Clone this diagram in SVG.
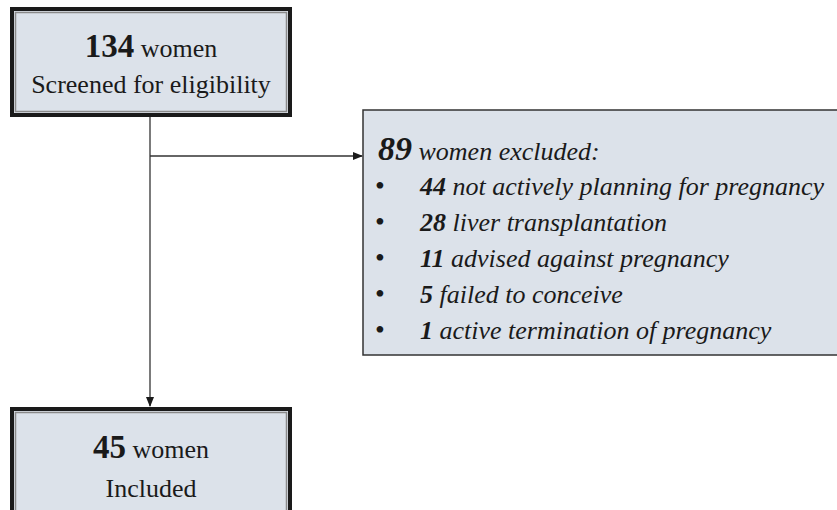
<svg xmlns="http://www.w3.org/2000/svg" width="837" height="510" viewBox="0 0 837 510">
<style>
.box{fill:#dce2ea;stroke:#1a1a1a;stroke-width:4}
.inner{fill:none;stroke:#8a8a8a;stroke-width:1.5}
.ex{fill:#dce2ea;stroke:#333;stroke-width:1.5}
text{font-family:'Liberation Serif','Times New Roman',Times,serif;fill:#1a1a1a}
.c{text-anchor:middle;font-size:26px}
.big{font-weight:bold;font-size:33px}
.it{font-style:italic;font-size:26px}
.num{font-weight:bold}
.bul{font-size:28px}
.line{stroke:#333;stroke-width:1.3;fill:none}
</style>
<defs>
<marker id="ah" markerWidth="10" markerHeight="8" refX="9" refY="4" orient="auto" markerUnits="userSpaceOnUse">
<path d="M0,0 L10,4 L0,8 Z" fill="#1a1a1a"/>
</marker>
</defs>
<g id="connectors">
<path class="line" d="M150,116 V406" marker-end="url(#ah)"/>
<path class="line" d="M150,156 H362" marker-end="url(#ah)"/>
</g>
<g id="screened">
<rect class="box" x="12" y="9" width="278" height="106"/>
<rect class="inner" x="15.5" y="12.5" width="271" height="99"/>
<text class="c" x="151" y="57"><tspan class="big">134</tspan> women</text>
<text class="c" x="151" y="93">Screened for eligibility</text>
</g>
<g id="excluded">
<rect class="ex" x="363" y="110" width="480" height="245"/>
<text class="it" x="378" y="160"><tspan class="num" style="font-size:34px">89</tspan> women excluded:</text>
<text class="bul" x="375" y="195">•</text>
<text class="bul" x="375" y="231">•</text>
<text class="bul" x="375" y="267">•</text>
<text class="bul" x="375" y="303">•</text>
<text class="bul" x="375" y="339">•</text>
<text class="it" x="420" y="195"><tspan class="num">44</tspan> not actively planning for pregnancy</text>
<text class="it" x="420" y="231"><tspan class="num">28</tspan> liver transplantation</text>
<text class="it" x="420" y="267"><tspan class="num">11</tspan> advised against pregnancy</text>
<text class="it" x="420" y="303"><tspan class="num">5</tspan> failed to conceive</text>
<text class="it" x="420" y="339"><tspan class="num">1</tspan> active termination of pregnancy</text>
</g>
<g id="included">
<rect class="box" x="12" y="409" width="278" height="110"/>
<rect class="inner" x="15.5" y="412.5" width="271" height="110"/>
<text class="c" x="151" y="458"><tspan class="big">45</tspan> women</text>
<text class="c" x="151" y="497">Included</text>
</g>
</svg>
